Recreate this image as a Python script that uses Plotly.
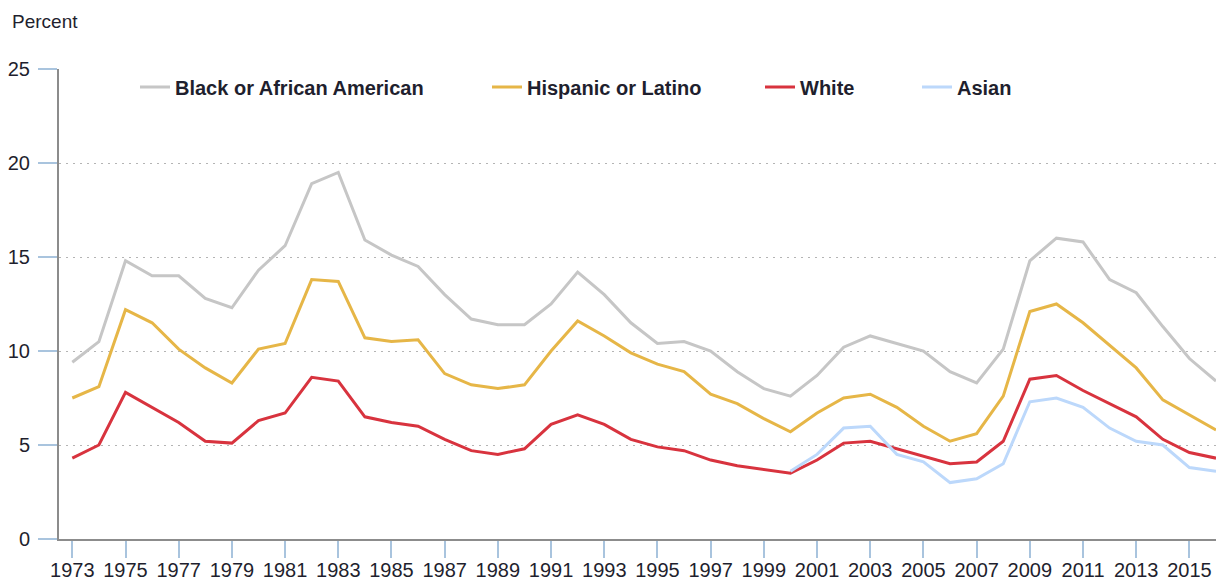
import plotly.graph_objects as go

years = list(range(1973, 2017))
asian_years = list(range(2000, 2017))

black = [9.4, 10.5, 14.8, 14.0, 14.0, 12.8, 12.3, 14.3, 15.6, 18.9,
         19.5, 15.9, 15.1, 14.5, 13.0, 11.7, 11.4, 11.4, 12.5, 14.2,
         13.0, 11.5, 10.4, 10.5, 10.0, 8.9, 8.0, 7.6, 8.7, 10.2,
         10.8, 10.4, 10.0, 8.9, 8.3, 10.1, 14.8, 16.0, 15.8, 13.8,
         13.1, 11.3, 9.6, 8.4]
hispanic = [7.5, 8.1, 12.2, 11.5, 10.1, 9.1, 8.3, 10.1, 10.4, 13.8,
            13.7, 10.7, 10.5, 10.6, 8.8, 8.2, 8.0, 8.2, 10.0, 11.6,
            10.8, 9.9, 9.3, 8.9, 7.7, 7.2, 6.4, 5.7, 6.7, 7.5,
            7.7, 7.0, 6.0, 5.2, 5.6, 7.6, 12.1, 12.5, 11.5, 10.3,
            9.1, 7.4, 6.6, 5.8]
white = [4.3, 5.0, 7.8, 7.0, 6.2, 5.2, 5.1, 6.3, 6.7, 8.6,
         8.4, 6.5, 6.2, 6.0, 5.3, 4.7, 4.5, 4.8, 6.1, 6.6,
         6.1, 5.3, 4.9, 4.7, 4.2, 3.9, 3.7, 3.5, 4.2, 5.1,
         5.2, 4.8, 4.4, 4.0, 4.1, 5.2, 8.5, 8.7, 7.9, 7.2,
         6.5, 5.3, 4.6, 4.3]
asian = [3.6, 4.5, 5.9, 6.0, 4.5, 4.1, 3.0, 3.2, 4.0, 7.3,
         7.5, 7.0, 5.9, 5.2, 5.0, 3.8, 3.6]

# page has an 8px body margin, so the figure is drawn 8px smaller and
# every position below is given in window pixels then shifted by OFF
OFF = 8
W, H = 1224 - OFF, 583 - OFF
L, T = 59 - OFF, 69 - OFF
B = H - (539 - OFF)
R = 0
PW, PH = W - L - R, H - T - B
FONT = "Liberation Sans, Arial, sans-serif"
TXT = "#1f1f2e"
TICK = "#a9c4de"

def px_x(p):
  return (p - OFF - L) / PW

def px_y(p):
  return (H - B - (p - OFF)) / PH

# name, x, y, colour, legend id, legend left edge (window px)
series = [
  ("Black or African American", years, black, "#c6c6c6", "legend", 135),
  ("Hispanic or Latino", years, hispanic, "#e6b647", "legend2", 487),
  ("White", years, white, "#d8333e", "legend3", 760),
  ("Asian", asian_years, asian, "#bcd8fb", "legend4", 917),
]

fig = go.Figure()
for name, x, y, col, leg, _ in series:
  fig.add_trace(go.Scatter(x=x, y=y, name=name, mode="lines",
                           line=dict(color=col, width=3), legend=leg))

leg_common = dict(orientation="h", xref="paper", yref="paper",
                  xanchor="left", yanchor="middle", y=px_y(87),
                  bgcolor="rgba(0,0,0,0)",
                  font=dict(family=FONT, size=20, color=TXT, weight="bold"))
layout_legends = {}
for name, x, y, col, leg, p in series:
  layout_legends[leg] = dict(leg_common, x=px_x(p))

fig.update_layout(
  width=W, height=H,
  margin=dict(l=L, r=R, t=T, b=B, autoexpand=False),
  paper_bgcolor="white", plot_bgcolor="white",
  font=dict(family=FONT, size=20, color=TXT),
  showlegend=True,
  **layout_legends,
)

fig.update_xaxes(range=[1972.5, 2016.3], tick0=1973, dtick=2,
                 showgrid=False, showline=True, linecolor="#8c8c8c", linewidth=2,
                 ticks="outside", ticklen=17, tickcolor=TICK, tickwidth=1.5,
                 zeroline=False, ticklabelstandoff=-5, automargin=False)
fig.update_yaxes(range=[0, 25], dtick=5,
                 showgrid=True, gridcolor="#b4b4b4", gridwidth=1, griddash="2px,5px",
                 showline=True, linecolor="#8c8c8c", linewidth=2,
                 ticks="outside", ticklen=19, tickcolor=TICK, tickwidth=1.5,
                 zeroline=False, ticklabelstandoff=4, automargin=False)

fig.add_annotation(text="Percent", xref="paper", yref="paper",
                   x=px_x(10), y=px_y(22),
                   xanchor="left", yanchor="middle", showarrow=False,
                   font=dict(family=FONT, size=19, color=TXT))

fig.write_html("out.html")
